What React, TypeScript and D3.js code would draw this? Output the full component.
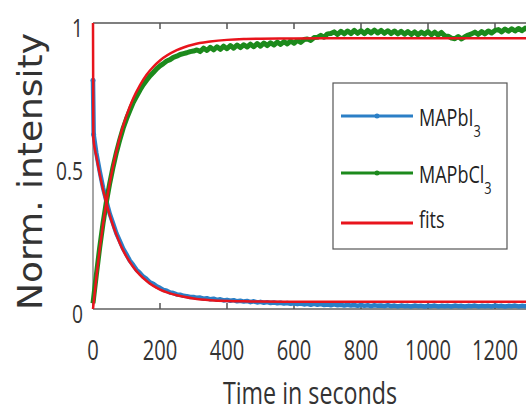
import React from 'react';
import * as d3 from 'd3';

// measured data, sampled every 10 s (first two samples at 0 and 2 s)
const dataTime = [0, 2, ...d3.range(10, 1301, 10)];

const blueData = [
  0.80, 0.61,
  0.545, 0.482, 0.424, 0.377, 0.333, 0.299, 0.264, 0.238, 0.211, 0.191,
  0.169, 0.154, 0.137, 0.126, 0.113, 0.105, 0.093, 0.088, 0.079, 0.074,
  0.067, 0.064, 0.058, 0.056, 0.051, 0.050, 0.046, 0.045, 0.042, 0.042,
  0.039, 0.040, 0.036, 0.038, 0.034, 0.036, 0.032, 0.034, 0.030, 0.032,
  0.029, 0.031, 0.027, 0.029, 0.026, 0.028, 0.024, 0.027, 0.023, 0.025,
  0.022, 0.024, 0.021, 0.023, 0.020, 0.022, 0.019, 0.021, 0.018, 0.020,
  0.017, 0.019, 0.016, 0.018, 0.015, 0.018, 0.015, 0.017, 0.014, 0.016,
  0.013, 0.016, 0.013, 0.015, 0.012, 0.015, 0.012, 0.014, 0.011, 0.014,
  0.011, 0.013, 0.010, 0.013, 0.011, 0.012, 0.010, 0.013, 0.010, 0.012,
  0.009, 0.012, 0.010, 0.011, 0.009, 0.012, 0.010, 0.011, 0.009, 0.011,
  0.010, 0.012, 0.009, 0.011, 0.010, 0.011, 0.009, 0.012, 0.010, 0.011,
  0.009, 0.011, 0.010, 0.012, 0.009, 0.011, 0.010, 0.011, 0.009, 0.012,
  0.010, 0.011, 0.009, 0.011, 0.010, 0.012, 0.009, 0.011, 0.010, 0.011,
];

const greenData = [
  0.02, 0.04,
  0.12, 0.215, 0.30, 0.375, 0.44, 0.497, 0.548, 0.592, 0.632, 0.665,
  0.694, 0.722, 0.744, 0.765, 0.784, 0.80, 0.815, 0.827, 0.84, 0.85,
  0.858, 0.867, 0.872, 0.88, 0.884, 0.89, 0.893, 0.896, 0.90, 0.902,
  0.906, 0.900, 0.912, 0.904, 0.915, 0.906, 0.917, 0.908, 0.919, 0.910,
  0.921, 0.912, 0.923, 0.914, 0.924, 0.916, 0.926, 0.917, 0.928, 0.919,
  0.930, 0.921, 0.931, 0.923, 0.933, 0.925, 0.935, 0.927, 0.937, 0.929,
  0.939, 0.932, 0.942, 0.944, 0.939, 0.949, 0.950, 0.957, 0.950, 0.962,
  0.963, 0.969, 0.960, 0.971, 0.962, 0.972, 0.963, 0.974, 0.964, 0.973,
  0.963, 0.974, 0.965, 0.975, 0.965, 0.974, 0.964, 0.973, 0.963, 0.972,
  0.962, 0.971, 0.961, 0.970, 0.960, 0.969, 0.959, 0.968, 0.961, 0.970,
  0.959, 0.968, 0.958, 0.967, 0.955, 0.954, 0.947, 0.945, 0.953, 0.944,
  0.952, 0.958, 0.962, 0.968, 0.960, 0.970, 0.962, 0.972, 0.965, 0.974,
  0.977, 0.969, 0.979, 0.971, 0.980, 0.972, 0.981, 0.973, 0.982, 0.975,
];

// fitted curves
const fitTime = [0, 1, 10, 20, 30, 40, 50, 60, 70, 80, 90, 100, 120, 140, 160, 180, 200, 250, 300, 350, 400, 450, 500, 600, 700, 800, 900, 1000, 1100, 1200, 1300];
const blueFit = [1.0, 0.598, 0.534, 0.472, 0.418, 0.370, 0.328, 0.291, 0.259, 0.230, 0.205, 0.183, 0.147, 0.119, 0.098, 0.081, 0.068, 0.048, 0.037, 0.031, 0.028, 0.027, 0.026, 0.025, 0.025, 0.025, 0.025, 0.025, 0.025, 0.025, 0.025];
const greenFit = [0.0, 0.012, 0.111, 0.209, 0.296, 0.373, 0.440, 0.500, 0.552, 0.599, 0.640, 0.676, 0.736, 0.782, 0.819, 0.847, 0.869, 0.905, 0.925, 0.935, 0.941, 0.944, 0.945, 0.946, 0.947, 0.947, 0.947, 0.947, 0.947, 0.947, 0.947];

const xTicks = [0, 200, 400, 600, 800, 1000, 1200];
const yTicks = [0, 0.5, 1];
const yTickLabels = ['0', '0.5', '1'];

const BLUE = '#2b7fc6';
const GREEN = '#1c8a1c';
const RED = '#e8141c';
const AXIS = '#555';

const App = () => {
  const width = 526;
  const height = 414;
  const left = 93;
  const top = 23;
  const bottom = 309;

  const x = d3.scaleLinear().domain([0, 1200]).range([left, 495]);
  const y = d3.scaleLinear().domain([0, 1]).range([bottom, top]);

  const dataLine = (vals: number[]) =>
    d3.line<number>().x((_, i) => x(dataTime[i])).y((d) => y(d)).curve(d3.curveLinear)(vals) || '';
  const fitLine = (vals: number[]) =>
    d3.line<number>().x((_, i) => x(fitTime[i])).y((d) => y(d)).curve(d3.curveMonotoneX)(vals) || '';

  const tickFont = "'Open Sans', sans-serif";

  const legendItems = [
    { name: 'MAPbI', sub: '3', color: BLUE, marker: true, ly: 116, ty: 126 },
    { name: 'MAPbCl', sub: '3', color: GREEN, marker: true, ly: 173, ty: 183 },
    { name: 'fits', sub: '', color: RED, marker: false, ly: 223, ty: 228 },
  ];

  return (
    <svg width={width} height={height} style={{ position: 'absolute', left: 0, top: 0, background: '#fff' }}>
      <defs>
        <clipPath id="plot">
          <rect x={left - 4} y={top - 4} width={width} height={bottom - top + 8} />
        </clipPath>
      </defs>

      {/* axes */}
      <line x1={left} x2={width} y1={top} y2={top} stroke={AXIS} strokeWidth={1.5} />
      <line x1={left} x2={width} y1={bottom} y2={bottom} stroke="#888" strokeWidth={2} />
      <line x1={left} x2={left} y1={top} y2={bottom} stroke="#888" strokeWidth={1.5} />
      {xTicks.map((t) => (
        <g key={t}>
          <line x1={x(t)} x2={x(t)} y1={bottom} y2={bottom - 6} stroke={AXIS} strokeWidth={1.5} />
          <line x1={x(t)} x2={x(t)} y1={top} y2={top + 6} stroke={AXIS} strokeWidth={1.5} />
          <text
            transform={`translate(${x(t)},360) scale(0.72,1)`}
            textAnchor="middle"
            fontFamily={tickFont}
            fontSize={28}
            fill="#333"
          >
            {t}
          </text>
        </g>
      ))}
      {yTicks.map((v, i) => (
        <text
          key={v}
          transform={`translate(83,${y(v) + 14}) scale(0.74,1)`}
          textAnchor="end"
          fontFamily={tickFont}
          fontSize={26}
          fill="#333"
        >
          {yTickLabels[i]}
        </text>
      ))}

      {/* data and fits */}
      <g clipPath="url(#plot)">
        <path d={dataLine(blueData)} fill="none" stroke={BLUE} strokeWidth={4.5} strokeLinejoin="round" />
        <path d={dataLine(greenData)} fill="none" stroke={GREEN} strokeWidth={5} strokeLinejoin="round" />
        {blueData.slice(0, 2).map((v, i) => (
          <circle key={i} cx={x(dataTime[i])} cy={y(v)} r={2.5} fill={BLUE} />
        ))}
        <path d={fitLine(blueFit)} fill="none" stroke={RED} strokeWidth={2.5} />
        <path d={fitLine(greenFit)} fill="none" stroke={RED} strokeWidth={2.5} />
      </g>

      {/* legend */}
      <rect x={333} y={83} width={174} height={166} fill="#fff" stroke={AXIS} strokeWidth={1.2} />
      {legendItems.map((d) => (
        <g key={d.name}>
          <line x1={341} x2={413} y1={d.ly} y2={d.ly} stroke={d.color} strokeWidth={3} />
          {d.marker && <circle cx={377} cy={d.ly} r={2.5} fill={d.color} />}
          <text transform={`translate(419,${d.ty}) scale(0.75,1)`} fontFamily={tickFont} fontSize={24} fill="#222">
            {d.name}
            {d.sub && (
              <tspan fontSize={17} dy={11}>
                {d.sub}
              </tspan>
            )}
          </text>
        </g>
      ))}

      {/* axis titles */}
      <text
        transform="translate(310,404) scale(0.75,1)"
        textAnchor="middle"
        fontFamily={tickFont}
        fontSize={31}
        fill="#333"
      >
        Time in seconds
      </text>
      <text
        transform="translate(42,310) rotate(-90)"
        fontFamily="'DejaVu Sans', sans-serif"
        fontSize={33}
        textLength={277}
        lengthAdjust="spacingAndGlyphs"
        fill="#333"
      >
        Norm. intensity
      </text>
    </svg>
  );
};

export default App;
